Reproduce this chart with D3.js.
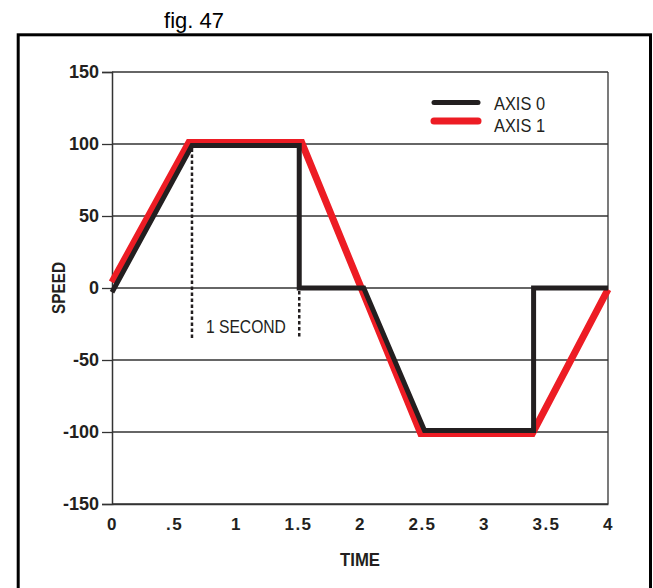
<!DOCTYPE html>
<html>
<head>
<meta charset="utf-8">
<script src="https://cdn.jsdelivr.net/npm/d3@7"></script>
<style>
  html, body { margin: 0; padding: 0; background: #fff; }
  svg { display: block; }
</style>
</head>
<body>
<svg id="chart" width="653" height="588"></svg>
<script>
// ---- data ----
const yTicks = [150, 100, 50, 0, -50, -100, -150];
const xTicks = [0, 0.5, 1, 1.5, 2, 2.5, 3, 3.5, 4];
const xTickLabels = ["0", ".5", "1", "1.5", "2", "2.5", "3", "3.5", "4"];
const axis0Time  = [0, 0.645, 1.51, 1.51, 2.03, 2.52, 3.4, 3.4, 4];
const axis0Speed = [-3, 99, 99, 0, 0, -99, -99, 0, 0];
const axis1Time  = [0, 0.62, 1.53, 2.49, 3.39, 4];
const axis1Speed = [4, 101, 101, -101, -101, -1];
const seriesNames = ["AXIS 0", "AXIS 1"];
const seriesColors = ["#231f20", "#ed1c24"];
const markerTime  = [0.645, 1.51];
const markerFrom  = [99, 0];
const markerTo    = -35;
const markerLabel = "1 SECOND";
const markerLabelPos = [1.08, -27];
const title = "fig. 47";
const xTitle = "TIME";
const yTitle = "SPEED";

// ---- layout ----
const svg = d3.select("#chart");
const x = d3.scaleLinear().domain([0, 4]).range([112, 608]);
const y = d3.scaleLinear().domain([-150, 150]).range([504, 72]);

// outer frame
svg.append("rect")
  .attr("x", 18.2).attr("y", 34.8)
  .attr("width", 632.3).attr("height", 600)
  .attr("fill", "none").attr("stroke", "#000").attr("stroke-width", 3);

svg.append("text")
  .attr("x", 194).attr("y", 28)
  .attr("text-anchor", "middle")
  .attr("font-family", "Liberation Sans, Arial, sans-serif")
  .attr("font-size", 22)
  .attr("fill", "#000")
  .text(title);

// gridlines
svg.append("g")
  .selectAll("line")
  .data(yTicks)
  .join("line")
  .attr("x1", x(0)).attr("x2", x(4))
  .attr("y1", d => y(d)).attr("y2", d => y(d))
  .attr("stroke", "#333").attr("stroke-width", 1.3);

// right border of plot
svg.append("line")
  .attr("x1", x(4)).attr("x2", x(4))
  .attr("y1", y(150)).attr("y2", y(-150))
  .attr("stroke", "#333").attr("stroke-width", 1.3);

// y axis
const yAxis = svg.append("g")
  .attr("transform", `translate(${x(0)},0)`)
  .call(d3.axisLeft(y).tickValues(yTicks).tickSize(10).tickPadding(3).tickFormat(d => d3.format("d")(d).replace("−", "-")));
yAxis.select(".domain").attr("stroke", "#333").attr("stroke-width", 1.5);
yAxis.selectAll(".tick line").attr("stroke", "#333").attr("stroke-width", 1.3);
yAxis.selectAll(".tick text")
  .attr("font-family", "Liberation Sans, Arial, sans-serif")
  .attr("font-weight", "bold")
  .attr("font-size", 18)
  .attr("fill", "#231f20");

// x axis
const xAxis = svg.append("g")
  .attr("transform", `translate(0,${y(-150)})`)
  .call(d3.axisBottom(x).tickValues(xTicks).tickSize(0).tickPadding(14)
    .tickFormat((d, i) => xTickLabels[i]));
xAxis.select(".domain").attr("stroke", "#333").attr("stroke-width", 1.5);
xAxis.selectAll(".tick text")
  .attr("font-family", "Liberation Sans, Arial, sans-serif")
  .attr("font-weight", "bold")
  .attr("font-size", 17)
  .attr("letter-spacing", 1.5)
  .attr("fill", "#231f20");

// axis titles
svg.append("text")
  .attr("x", x(2)).attr("y", 566)
  .attr("text-anchor", "middle")
  .attr("font-family", "Liberation Sans, Arial, sans-serif")
  .attr("font-weight", "bold")
  .attr("font-size", 19)
  .attr("textLength", 40).attr("lengthAdjust", "spacingAndGlyphs")
  .attr("fill", "#231f20")
  .text(xTitle);

svg.append("text")
  .attr("transform", `translate(65,${y(0)}) rotate(-90)`)
  .attr("text-anchor", "middle")
  .attr("font-family", "Liberation Sans, Arial, sans-serif")
  .attr("font-weight", "bold")
  .attr("font-size", 18)
  .attr("textLength", 52).attr("lengthAdjust", "spacingAndGlyphs")
  .attr("fill", "#231f20")
  .text(yTitle);

// dotted markers
svg.append("g")
  .selectAll("line")
  .data(markerTime)
  .join("line")
  .attr("x1", d => x(d)).attr("x2", d => x(d))
  .attr("y1", (d, i) => y(markerFrom[i]) + 3).attr("y2", y(markerTo))
  .attr("stroke", "#231f20").attr("stroke-width", 2.5)
  .attr("stroke-dasharray", "3.5,2.5");

svg.append("text")
  .attr("x", x(markerLabelPos[0])).attr("y", y(markerLabelPos[1]) + 6.5)
  .attr("text-anchor", "middle")
  .attr("font-family", "Liberation Sans, Arial, sans-serif")
  .attr("font-size", 18)
  .attr("textLength", 80).attr("lengthAdjust", "spacingAndGlyphs")
  .attr("fill", "#231f20")
  .text(markerLabel);

// series lines
const line = d3.line().x(d => x(d[0])).y(d => y(d[1]));
const series = [
  { name: seriesNames[1], color: seriesColors[1], width: 7, pts: d3.zip(axis1Time, axis1Speed) },
  { name: seriesNames[0], color: seriesColors[0], width: 5, pts: d3.zip(axis0Time, axis0Speed) }
];
svg.append("g")
  .selectAll("path")
  .data(series)
  .join("path")
  .attr("d", d => line(d.pts))
  .attr("fill", "none")
  .attr("stroke", d => d.color)
  .attr("stroke-width", d => d.width)
  .attr("stroke-linejoin", "miter");

// legend
const legendY = [102.5, 121];
const legendW = [5, 7];
const leg = svg.append("g");
seriesNames.forEach((name, i) => {
  leg.append("line")
    .attr("x1", 434).attr("x2", 478)
    .attr("y1", legendY[i]).attr("y2", legendY[i])
    .attr("stroke", seriesColors[i]).attr("stroke-width", legendW[i])
    .attr("stroke-linecap", "round");
  leg.append("text")
    .attr("x", 494).attr("y", legendY[i] + 7.5 + (i === 1 ? 3 : 0))
    .attr("font-family", "Liberation Sans, Arial, sans-serif")
    .attr("font-size", 19)
    .attr("textLength", 51).attr("lengthAdjust", "spacingAndGlyphs")
    .attr("fill", "#231f20")
    .text(name);
});
</script>
</body>
</html>
